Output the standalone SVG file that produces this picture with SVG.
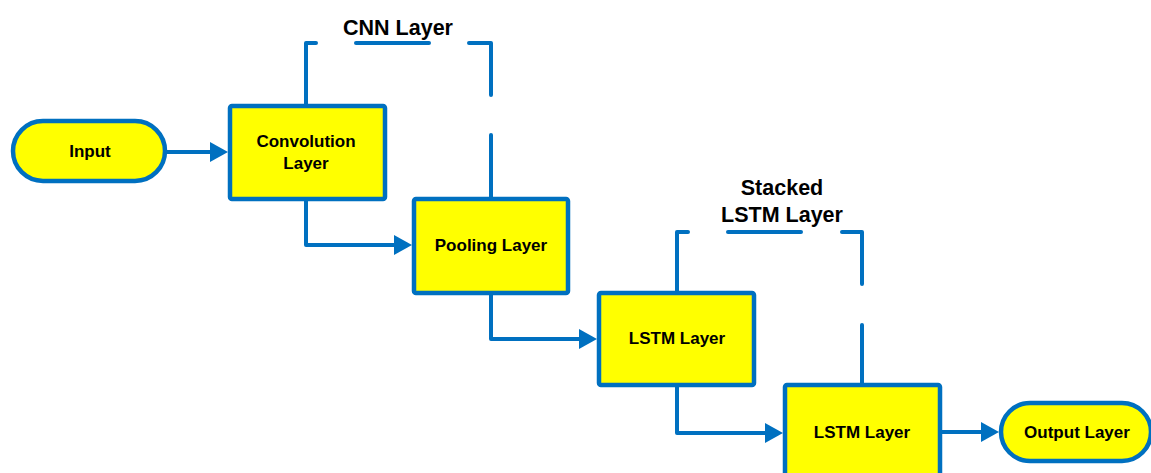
<svg xmlns="http://www.w3.org/2000/svg" width="1151" height="473" viewBox="0 0 1151 473">
<style>
.box{fill:#FFFF00;stroke:#0070C0;stroke-width:4.5}
.lbl{font-family:"Liberation Sans",Arial,sans-serif;font-weight:bold;font-size:17px;fill:#000;text-anchor:middle}
.title{font-family:"Liberation Sans",Arial,sans-serif;font-weight:bold;font-size:21.5px;fill:#000;text-anchor:middle}
.conn{fill:none;stroke:#0070C0;stroke-width:4;stroke-linejoin:round}
.dash{fill:none;stroke:#0070C0;stroke-width:4;stroke-linecap:round;stroke-linejoin:round}
</style>
<defs>
<marker id="arr" markerUnits="userSpaceOnUse" markerWidth="19" markerHeight="20" refX="0" refY="10" orient="auto" overflow="visible">
<path d="M0,0 L18,10 L0,20 Z" fill="#0070C0"/>
</marker>
</defs>
<rect width="1151" height="473" fill="#FFFFFF"/>
<g id="connectors">
<path class="conn" d="M165 152 H210" marker-end="url(#arr)"/>
<path class="conn" d="M306 201 V245 H394" marker-end="url(#arr)"/>
<path class="conn" d="M491 295 V339 H579" marker-end="url(#arr)"/>
<path class="conn" d="M677 387 V433 H765" marker-end="url(#arr)"/>
<path class="conn" d="M942 432 H981" marker-end="url(#arr)"/>
<path class="dash" d="M306 104 V43 H316"/>
<path class="dash" d="M356 43 H429"/>
<path class="dash" d="M469 43 H491 V95"/>
<path class="dash" d="M491 135 V197"/>
<path class="dash" d="M677 291 V232 H688"/>
<path class="dash" d="M728 232 H801"/>
<path class="dash" d="M842 232 H862 V284"/>
<path class="dash" d="M862 325 V383"/>
</g>
<g id="cnn-label"><text class="title" x="398" y="35">CNN Layer</text></g>
<g id="stacked-label"><text class="title" x="782" y="195">Stacked</text><text class="title" x="782" y="222">LSTM Layer</text></g>
<g id="input"><rect class="box" x="13" y="121" width="152" height="60" rx="30"/><text class="lbl" x="90" y="157">Input</text></g>
<g id="conv"><rect class="box" x="230" y="106" width="155" height="93" rx="2"/><text class="lbl" x="306" y="147">Convolution</text><text class="lbl" x="306" y="169">Layer</text></g>
<g id="pool"><rect class="box" x="414" y="199" width="154" height="94" rx="2"/><text class="lbl" x="491" y="251">Pooling Layer</text></g>
<g id="lstm1"><rect class="box" x="599" y="293" width="155" height="92" rx="2"/><text class="lbl" x="677" y="344">LSTM Layer</text></g>
<g id="lstm2"><rect class="box" x="785" y="385" width="155" height="100" rx="2"/><text class="lbl" x="862" y="438">LSTM Layer</text></g>
<g id="output"><rect class="box" x="1001" y="403" width="150" height="58" rx="29"/><text class="lbl" x="1077" y="438">Output Layer</text></g>
</svg>
